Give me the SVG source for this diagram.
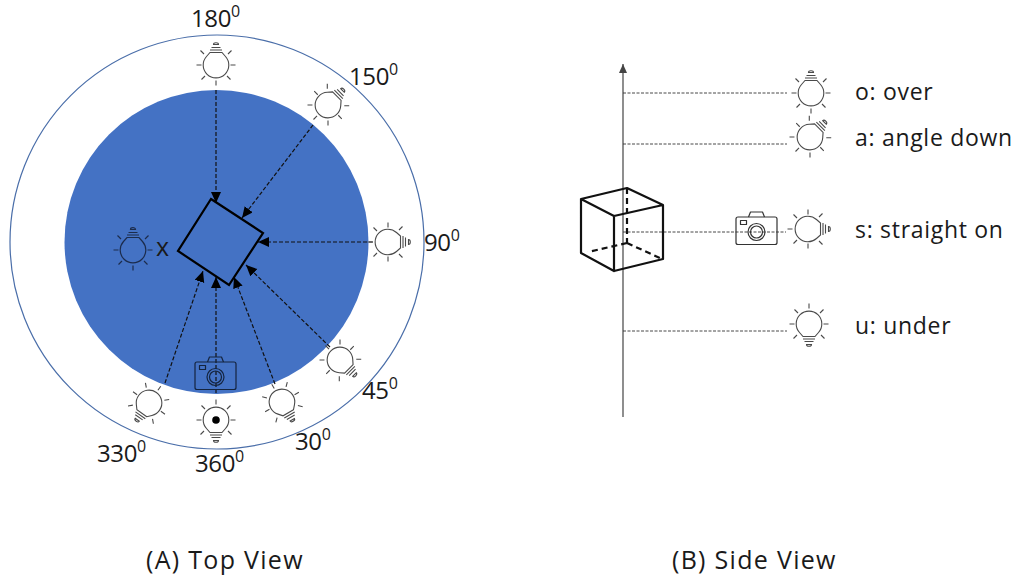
<svg xmlns="http://www.w3.org/2000/svg" width="1019" height="578" viewBox="0 0 1019 578">
<style>
text{font-family:"Open Sans","Noto Sans","Liberation Sans",sans-serif;fill:#1a1a1a}
.deg{font-size:24px;letter-spacing:-.4px}
.sup{font-size:16px}
.lab{font-size:23px;letter-spacing:.7px}
.cap{font-size:25px;letter-spacing:1.300px}
.b{fill:none;stroke:#4a4a4a;stroke-width:1.1}
.bd{fill:none;stroke:#1c2c4c;stroke-width:1.2}
.dash{fill:none;stroke:#111;stroke-width:1.2;stroke-dasharray:4 2}
.side{fill:none;stroke:#333;stroke-width:.9;stroke-dasharray:3 1.5}
.cube{fill:none;stroke:#111;stroke-width:2.2}
.cubed{fill:none;stroke:#111;stroke-width:2.2;stroke-dasharray:6 4}
.cam{fill:none;stroke-width:1.2;stroke-linejoin:round}
</style>
<defs>
<marker id="arr" markerWidth="12" markerHeight="12" refX="11" refY="5" orient="auto" markerUnits="userSpaceOnUse"><path d="M0 0L11 5L0 10Z" fill="#000"/></marker>
<marker id="ax" markerWidth="10" markerHeight="10" refX="9" refY="4" orient="auto" markerUnits="userSpaceOnUse"><path d="M0 0L9 4L0 8Z" fill="#444"/></marker>
<g id="bulb">
<path d="M-6-12.500H6L9.500-8.500A12.800 12.800 0 1 1-9.500-8.500Z"/>
<path d="M-6-15H6M-4.500-17.500H4.500M-2.500-20.500A2.500 1.800 0 0 1 2.500-20.500Z"/>
<path d="M-19.500 0H-14.500M14.500 0H19.500M0 15.500V20.500M-11 11L-14.500 14.500M11 11L14.500 14.500M-12-11L-15.500-14.500M12-11L15.500-14.500"/>
</g>
<g id="camera">
<rect x="-20.500" y="-14" width="41" height="27.500" rx="2"/>
<path d="M-8-14L-6-19H6L8-14"/>
<rect x="-16" y="-10.500" width="6" height="4"/>
<circle cx="0" cy="1" r="8.500"/><circle cx="0" cy="1" r="6"/>
</g>
</defs>
<g id="top-view">
<circle id="outer-ring" cx="217" cy="242" r="207" fill="#fff" stroke="#4a6ea9" stroke-width="1.2"/>
<circle id="blue-disc" cx="216.500" cy="242" r="152" fill="#4472c4"/>
</g>
<g id="connectors">
<path class="dash" marker-end="url(#arr)" d="M216 90V203"/>
<path class="dash" marker-end="url(#arr)" d="M313 125L242 218"/>
<path class="dash" marker-end="url(#arr)" d="M373 242H258"/>
<path class="dash" marker-end="url(#arr)" d="M330 347L246 265"/>
<path class="dash" marker-end="url(#arr)" d="M275 384L234 277"/>
<path class="dash" marker-end="url(#arr)" d="M216 393V277"/>
<path class="dash" marker-end="url(#arr)" d="M165 383L203 271"/>
<path fill="none" stroke="#444" stroke-width="1.2" marker-end="url(#ax)" d="M623 417V64"/>
<path class="side" d="M623 93H787M623 144H787M623 232H786M623 331H787"/>
</g>
<g id="object-top"><path fill="none" stroke="#000" stroke-width="2.200" d="M211 199L263 233L229 285L178 251Z"/></g>
<g id="bulb-180"><use href="#bulb" class="b" transform="translate(216 65)"/></g>
<g id="bulb-150"><use href="#bulb" class="b" transform="translate(328 105) rotate(45)"/></g>
<g id="bulb-90"><use href="#bulb" class="b" transform="translate(388 242) rotate(90)"/></g>
<g id="bulb-45"><use href="#bulb" class="b" transform="translate(340 360) rotate(135)"/></g>
<g id="bulb-30"><use href="#bulb" class="b" transform="translate(282 402) rotate(150)"/></g>
<g id="bulb-360"><use href="#bulb" class="b" transform="translate(216 420) rotate(180)"/><circle cx="216" cy="420" r="3.800" fill="#000"/></g>
<g id="bulb-330"><use href="#bulb" class="b" transform="translate(149 403) rotate(215)"/></g>
<g id="bulb-x"><use href="#bulb" class="bd" transform="translate(133 250)"/></g>
<g id="camera-top"><use href="#camera" class="cam" stroke="#14243f" transform="translate(215.500 376)"/></g>
<g id="labels-top">
<text class="deg" x="191" y="27">180<tspan class="sup" dy="-10">0</tspan></text>
<text class="deg" x="349" y="85">150<tspan class="sup" dy="-10">0</tspan></text>
<text class="deg" x="424" y="251">90<tspan class="sup" dy="-10">0</tspan></text>
<text class="deg" x="362" y="399">45<tspan class="sup" dy="-10">0</tspan></text>
<text class="deg" x="295" y="450">30<tspan class="sup" dy="-10">0</tspan></text>
<text class="deg" x="195" y="472">360<tspan class="sup" dy="-10">0</tspan></text>
<text class="deg" x="97" y="462">330<tspan class="sup" dy="-10">0</tspan></text>
<text x="156" y="256" style="font-size:25px">x</text>
<text class="cap" x="146" y="569">(A) Top View</text>
</g>
<g id="cube">
<path class="cube" stroke-linejoin="round" d="M581 199L627 188L663 205L614 216ZM581 199V253L614 271V216M614 271L663 259V205"/>
<path class="cubed" d="M627 188V243M627 243L588 252M627 243L660 258"/>
</g>
<g id="camera-side"><use href="#camera" class="cam" stroke="#333" transform="translate(756.500 231)"/></g>
<g id="bulb-o"><use href="#bulb" class="b" transform="translate(811 93)"/></g>
<g id="bulb-a"><use href="#bulb" class="b" transform="translate(810 137) rotate(45)"/></g>
<g id="bulb-s"><use href="#bulb" class="b" transform="translate(808 229) rotate(90)"/></g>
<g id="bulb-u"><use href="#bulb" class="b" transform="translate(809 324) rotate(180)"/></g>
<g id="labels-side">
<text class="lab" x="855" y="100">o: over</text>
<text class="lab" x="855" y="146">a: angle down</text>
<text class="lab" x="855" y="238">s: straight on</text>
<text class="lab" x="855" y="334">u: under</text>
<text class="cap" x="672" y="569">(B) Side View</text>
</g>
</svg>
